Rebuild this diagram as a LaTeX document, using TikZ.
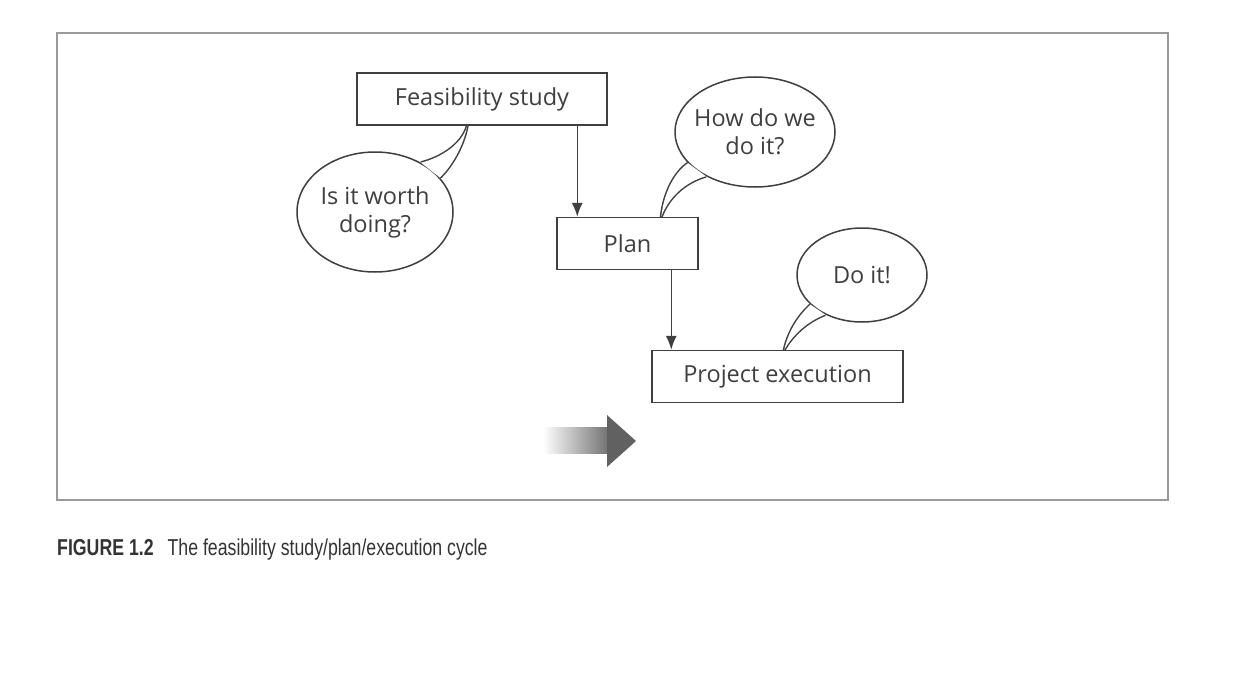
\documentclass[tikz,border=0pt]{standalone}
\usepackage{fontspec}
\setmainfont{Open Sans}
\newfontfamily\capfont[FakeStretch=0.77]{Liberation Sans}
\usetikzlibrary{positioning,shapes.geometric,arrows.meta,backgrounds}
\definecolor{ink}{HTML}{3F3F3F}
\definecolor{framegray}{HTML}{9A9A9A}

\begin{document}
\begin{tikzpicture}[x=1pt,y=-1pt,
    box/.style={draw=ink, line width=1.5pt, fill=white, minimum height=52pt,
      inner sep=0pt, text=ink, font=\fontsize{23.5}{28}\selectfont},
    bubble/.style={ellipse, draw=ink, line width=1.5pt, fill=white, inner sep=-12pt,
      align=center, text=ink, font=\fontsize{23.5}{28}\selectfont},
    link/.style={draw=ink, line width=1.4pt, -{Latex[length=14pt,width=11pt]}},
    tail/.style={draw=ink, line width=3pt},
  ]
  \useasboundingbox (0,0) rectangle (1248,677);
  \draw[framegray, line width=2.2pt] (57,33) rectangle (1168,500);

  % boxes
  \node[box, minimum width=250pt] (feas) at (482,99) {Feasibility study};
  \node[box, minimum width=141pt] (plan) at (627.5,243.5) {Plan};
  \node[box, minimum width=251pt] (exec) at (777.5,376.5) {Project execution};

  \draw[link] ([xshift=21pt]plan.north west |- feas.south) -- ([xshift=21pt]plan.north west);
  \draw[link] ([xshift=20pt]exec.north west |- plan.south) -- ([xshift=20pt]exec.north west);

  % speech bubbles
  \node[bubble, minimum width=156pt, minimum height=120pt] (worth) at (375,212) {Is it worth\\doing?};
  \node[bubble, minimum width=160pt, minimum height=110pt] (how) at (755,132) {How do we\\do it?};
  \node[bubble, minimum width=130pt, minimum height=94pt] (doit) at (862,275) {Do it!};

  \coordinate (worth tip) at ([xshift=111pt]feas.south west);
  \coordinate (how tip) at ([xshift=105pt]plan.north west);
  \coordinate (doit tip) at ([xshift=133pt]exec.north west);

  \begin{scope}[on background layer]
    \draw[tail] (worth.47) .. controls (440,158) and (462,145) .. (worth tip)
      .. controls (463,148) and (450,168) .. (worth.28);
    \draw[tail] (how.205) .. controls (675,172) and (664,192) .. (how tip)
      .. controls (668,198) and (685,182) .. (how.222);
    \draw[tail] (doit.210) .. controls (797,317) and (788,333) .. (doit tip)
      .. controls (792,336) and (806,322) .. (doit.227);
  \end{scope}
  \fill[white] (worth.47) .. controls (440,158) and (462,145) .. (worth tip)
    .. controls (463,148) and (450,168) .. (worth.28) -- cycle;
  \fill[white] (how.205) .. controls (675,172) and (664,192) .. (how tip)
    .. controls (668,198) and (685,182) .. (how.222) -- cycle;
  \fill[white] (doit.210) .. controls (797,317) and (788,333) .. (doit tip)
    .. controls (792,336) and (806,322) .. (doit.227) -- cycle;

  % shaded arrow
  \shade[left color=white, right color=black!55] (543,427) rectangle (608,453);
  \fill[black!62] (607,415) -- (636,441) -- (607,467) -- cycle;

  \node[anchor=base west, inner sep=0pt, text=black!80,
    font=\capfont\fontsize{23}{26}\selectfont] (caption) at (57,555)
    {\textbf{FIGURE 1.2}\hspace{14pt}The feasibility study/plan/execution cycle};
\end{tikzpicture}
\end{document}
